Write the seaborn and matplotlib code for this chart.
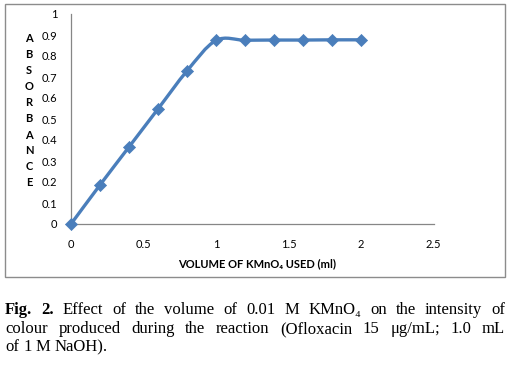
import numpy as np
import pandas as pd
import matplotlib
matplotlib.use("Agg")
import matplotlib.pyplot as plt
import seaborn as sns
from matplotlib.path import Path
from matplotlib.patches import PathPatch, Rectangle

# ---------------- data ----------------
volume_ml = [0.0, 0.2, 0.4, 0.6, 0.8, 1.0, 1.2, 1.4, 1.6, 1.8, 2.0]
absorbance = [0.0, 0.186, 0.367, 0.548, 0.729, 0.874, 0.875, 0.876, 0.876, 0.877, 0.877]
x_ticks = [0, 0.5, 1, 1.5, 2, 2.5]
x_tick_labels = ["0", "0.5", "1", "1.5", "2", "2.5"]
y_ticks = [0, 0.1, 0.2, 0.3, 0.4, 0.5, 0.6, 0.7, 0.8, 0.9, 1]
y_tick_labels = ["0", "0.1", "0.2", "0.3", "0.4", "0.5", "0.6", "0.7", "0.8", "0.9", "1"]
y_label_letters = ["A", "B", "S", "O", "R", "B", "A", "N", "C", "E"]
x_label = "VOLUME OF KMnO\u2084 USED (ml)"
caption_line1 = [("Fig.", True), ("2.", True), ("Effect", False), ("of", False), ("the", False),
                 ("volume", False), ("of", False), ("0.01", False), ("M", False),
                 ("KMnO\u2084", False), ("on", False), ("the", False), ("intensity", False), ("of", False)]
caption_line2 = [("colour", False), ("produced", False), ("during", False), ("the", False),
                 ("reaction", False), ("(Ofloxacin", False), ("15", False), ("\u03bcg/mL;", False),
                 ("1.0", False), ("mL", False)]
caption_line3 = [("of", False), ("1", False), ("M", False), ("NaOH).", False)]

W, H = 513, 366
sns.set_theme(style="white")
plt.rcParams["font.family"] = ["Lato", "DejaVu Sans"]

fig = plt.figure(figsize=(W / 100, H / 100), dpi=100)
fig.patch.set_facecolor("white")

def fx(px):
    return px / W

def fy(py):
    return 1 - py / H

# outer chart frame
fig.patches.append(Rectangle((fx(5), fy(277)), fx(505) - fx(5), fy(4) - fy(277),
                             transform=fig.transFigure, fill=False,
                             edgecolor="#8c8c8c", linewidth=1.0))

x0_px, x1_px = 71, 433.5
y0_px, y1_px = 224, 14
ax = fig.add_axes([fx(x0_px), fy(y0_px), fx(x1_px) - fx(x0_px), fy(y1_px) - fy(y0_px)])
ax.set_facecolor("none")

df = pd.DataFrame({"volume": volume_ml, "absorbance": absorbance})

# smoothed line (Excel-like bezier smoothing through the data points)
pts = np.column_stack([volume_ml, absorbance])
ext = np.vstack([pts[0], pts, pts[-1]])
verts = [tuple(pts[0])]
codes = [Path.MOVETO]
for i in range(len(pts) - 1):
    p0, p1, p2, p3 = ext[i], ext[i + 1], ext[i + 2], ext[i + 3]
    c1 = p1 + (p2 - p0) / 6
    c2 = p2 - (p3 - p1) / 6
    verts += [tuple(c1), tuple(c2), tuple(p2)]
    codes += [Path.CURVE4] * 3
ax.add_patch(PathPatch(Path(verts, codes), fill=False, edgecolor="#4A7EBB",
                       linewidth=2.4, capstyle="round", joinstyle="round", zorder=2))

sns.scatterplot(data=df, x="volume", y="absorbance", marker="D", s=38,
                color="#4A7EBB", edgecolor="#4A7EBB", linewidth=0.5, ax=ax, zorder=3,
                clip_on=False)

ax.set_xlim(0, 2.5)
ax.set_ylim(0, 1)
ax.set_xticks(x_ticks)
ax.set_xticklabels(x_tick_labels)
ax.set_yticks(y_ticks)
ax.set_yticklabels(y_tick_labels)
ax.set_xlabel("")
ax.set_ylabel("")
for s in ["top", "right"]:
    ax.spines[s].set_visible(False)
for s in ["left", "bottom"]:
    ax.spines[s].set_color("#868686")
    ax.spines[s].set_linewidth(0.9)
ax.tick_params(axis="both", direction="out", length=4, width=0.9, color="#868686",
               labelsize=8, labelcolor="black")
ax.tick_params(axis="y", pad=6)
ax.tick_params(axis="x", pad=7)

# stacked y label letters
for i, ch in enumerate(y_label_letters):
    fig.text(fx(29), fy(39 + i * 16), ch, ha="center", va="center",
             fontsize=8, fontweight="bold", color="black")

fig.text(fx(257), fy(264), x_label, ha="center", va="center", fontsize=8,
         fontweight="bold", color="black", family=["Lato", "DejaVu Sans"])

# caption, justified
serif = ["Liberation Serif", "DejaVu Serif"]
renderer = fig.canvas.get_renderer()
cap_fs = 12

def place_line(words, base_px, left_px, right_px, justify):
    texts = []
    for w, bold in words:
        t = fig.text(0, fy(base_px), w, fontsize=cap_fs, family=serif,
                     fontweight="bold" if bold else "normal", va="baseline", ha="left",
                     color="black")
        texts.append(t)
    widths = [t.get_window_extent(renderer).width for t in texts]
    if justify:
        gap = (right_px - left_px - sum(widths)) / (len(words) - 1)
    else:
        gap = cap_fs * 100 / 72 * 0.25
    x = left_px
    for t, w in zip(texts, widths):
        t.set_x(fx(x))
        x += w + gap

place_line(caption_line1, 314, 5, 505, True)
place_line(caption_line2, 333, 5, 505, True)
place_line(caption_line3, 351, 5, 505, False)

fig.savefig("out.png", dpi=100, facecolor="white")
